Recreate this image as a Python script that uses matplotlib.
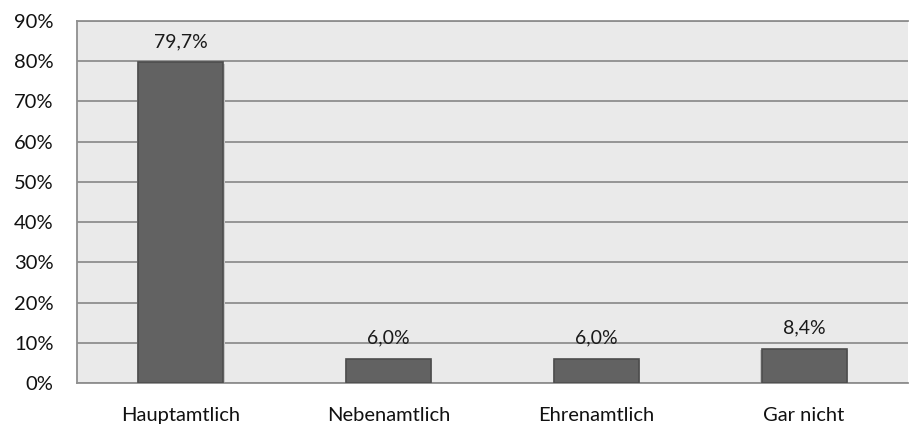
import matplotlib.pyplot as plt
import numpy as np

categories = ["Hauptamtlich", "Nebenamtlich", "Ehrenamtlich", "Gar nicht"]
values = [79.7, 6.0, 6.0, 8.4]
yticks = [0, 10, 20, 30, 40, 50, 60, 70, 80, 90]

plt.rcParams['font.family'] = ['Lato', 'DejaVu Sans']

fig = plt.figure(figsize=(9.09, 4.28), dpi=100)
ax = fig.add_axes([77 / 909, 45 / 428, 831 / 909, 362 / 428])
ax.set_facecolor('#eaeaea')

x = np.arange(len(categories))
# soft shadow just below the bars
ax.bar(x, [v + 0.6 for v in values], width=0.42, bottom=-0.9,
       color='#c4c4c4', zorder=2)
bars = ax.bar(x, values, width=0.41, color='#626262', edgecolor='#4d4d4d',
              linewidth=1.2, zorder=3)

for xi, v in zip(x, values):
    ax.annotate(f"{v:.1f}%".replace(".", ","), (xi, v), xytext=(0, 9),
                textcoords='offset points', ha='center', va='bottom',
                fontsize=14, color='#1a1a1a')

ax.set_xlim(-0.5, len(categories) - 0.5)
ax.set_ylim(0, 90)
ax.set_yticks(yticks)
ax.set_yticklabels([f"{t}%" for t in yticks])
ax.set_xticks(x)
ax.set_xticklabels(categories)
ax.yaxis.grid(True, color='#8f8f8f', linewidth=1.3, zorder=1)
ax.set_axisbelow(True)
ax.tick_params(axis='both', length=0, labelsize=14.5, colors='#111111')
ax.tick_params(axis='y', pad=17)
ax.tick_params(axis='x', pad=17)
ax.spines['right'].set_visible(False)
for side in ['left', 'bottom', 'top']:
    ax.spines[side].set_color('#8f8f8f')
    ax.spines[side].set_linewidth(1.3)
for lbl in ax.get_yticklabels():
    lbl.set_horizontalalignment('right')

fig.savefig("out.png", dpi=100, facecolor='w')
